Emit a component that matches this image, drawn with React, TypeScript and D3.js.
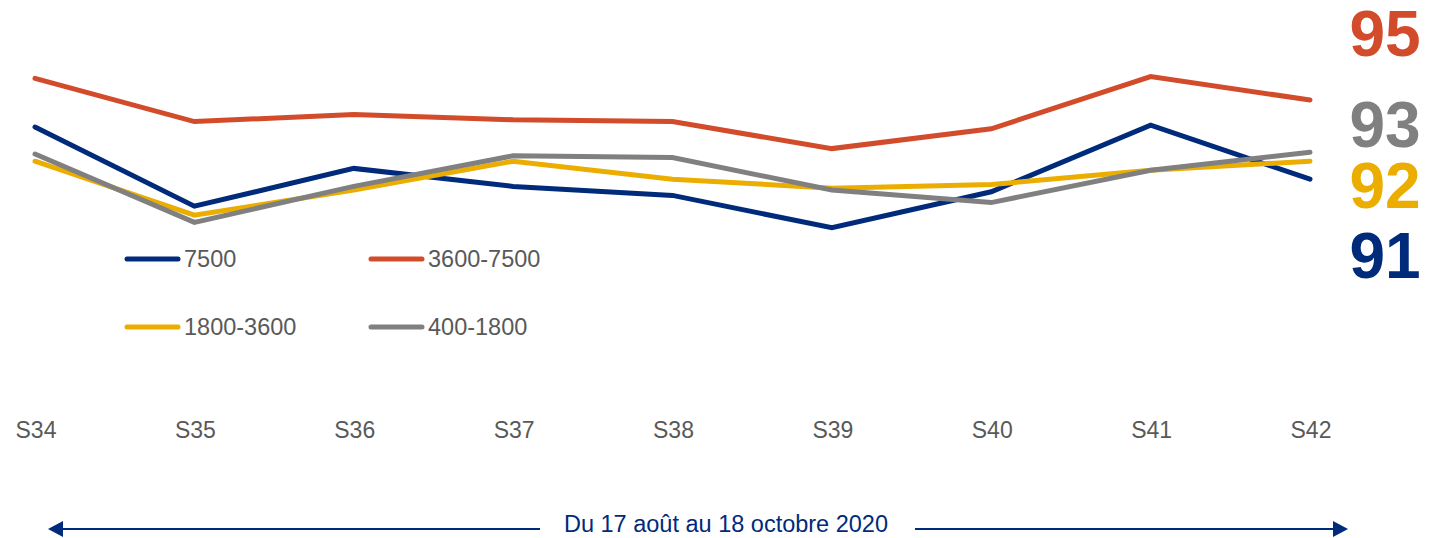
import React, { useEffect, useRef } from 'react';
import * as d3 from 'd3';

const weeks = ['S34', 'S35', 'S36', 'S37', 'S38', 'S39', 'S40', 'S41', 'S42'];
const s7500 = [94.0, 89.6, 91.7, 90.7, 90.2, 88.4, 90.4, 94.1, 91.1];
const s3600 = [96.7, 94.3, 94.7, 94.4, 94.3, 92.8, 93.9, 96.8, 95.5];
const s1800 = [92.1, 89.1, 90.5, 92.1, 91.1, 90.6, 90.8, 91.6, 92.1];
const s400 = [92.5, 88.7, 90.7, 92.4, 92.3, 90.5, 89.8, 91.6, 92.6];
const seriesNames = ['7500', '3600-7500', '1800-3600', '400-1800'];
const endLabels = ['91', '95', '92', '93'];
const colors = ['#002A7A', '#D24B2A', '#EBAE00', '#808080'];
const periodLabel = 'Du 17 août au 18 octobre 2020';

export default function App() {
  const ref = useRef(null);

  useEffect(() => {
    const width = 1440;
    const height = 538;
    const svg = d3.select(ref.current);
    svg.selectAll('*').remove();
    svg.attr('width', width).attr('height', height);

    const font = 'Liberation Sans, Arial, sans-serif';
    const x = d3.scalePoint().domain(weeks).range([35, 1310]);
    const y = d3.scaleLinear().domain([85, 100]).range([289, 19]);

    const all = [s7500, s3600, s1800, s400];
    const line = d3.line<number>()
      .x((d, i) => x(weeks[i]))
      .y(d => y(d));

    // draw order: red, navy, yellow, gray on top
    [1, 0, 2, 3].forEach(k => {
      svg.append('path')
        .attr('d', line(all[k]))
        .attr('fill', 'none')
        .attr('stroke', colors[k])
        .attr('stroke-width', 5)
        .attr('stroke-linejoin', 'miter')
        .attr('stroke-linecap', 'round');
    });

    // x labels
    svg.append('g').selectAll('text')
      .data(weeks)
      .enter().append('text')
      .attr('x', d => x(d) + 1)
      .attr('y', 438)
      .attr('text-anchor', 'middle')
      .attr('font-family', font)
      .attr('font-size', 23)
      .attr('fill', '#595959')
      .text(d => d);

    // legend
    const legPos = [[125, 259], [369, 259], [125, 327], [369, 327]];
    seriesNames.forEach((name, k) => {
      const [lx, ly] = legPos[k];
      svg.append('line')
        .attr('x1', lx + 2).attr('x2', lx + 53)
        .attr('y1', ly).attr('y2', ly)
        .attr('stroke', colors[k])
        .attr('stroke-width', 5)
        .attr('stroke-linecap', 'round');
      svg.append('text')
        .attr('x', lx + 59)
        .attr('y', ly + 8)
        .attr('font-family', font)
        .attr('font-size', 23.5)
        .attr('fill', '#595959')
        .text(name);
    });

    // big end labels
    const endY = [278, 56, 208, 147];
    endLabels.forEach((t, k) => {
      svg.append('text')
        .attr('x', 1385)
        .attr('y', endY[k])
        .attr('text-anchor', 'middle')
        .attr('font-family', font)
        .attr('font-weight', 'bold')
        .attr('font-size', 64)
        .attr('fill', colors[k])
        .text(t);
    });

    // period arrow
    const navy = colors[0];
    const ay = 529;
    svg.append('line')
      .attr('x1', 60).attr('x2', 540).attr('y1', ay).attr('y2', ay)
      .attr('stroke', navy).attr('stroke-width', 2);
    svg.append('line')
      .attr('x1', 915).attr('x2', 1336).attr('y1', ay).attr('y2', ay)
      .attr('stroke', navy).attr('stroke-width', 2);
    svg.append('path')
      .attr('d', `M48,${ay} L63,${ay - 8} L63,${ay + 8} Z`)
      .attr('fill', navy);
    svg.append('path')
      .attr('d', `M1348,${ay} L1333,${ay - 8} L1333,${ay + 8} Z`)
      .attr('fill', navy);
    svg.append('text')
      .attr('x', 726)
      .attr('y', 532)
      .attr('text-anchor', 'middle')
      .attr('font-family', font)
      .attr('font-size', 23.5)
      .attr('fill', navy)
      .text(periodLabel);
  }, []);

  return (
    <svg ref={ref} style={{ position: 'absolute', left: 0, top: 0 }} />
  );
}
